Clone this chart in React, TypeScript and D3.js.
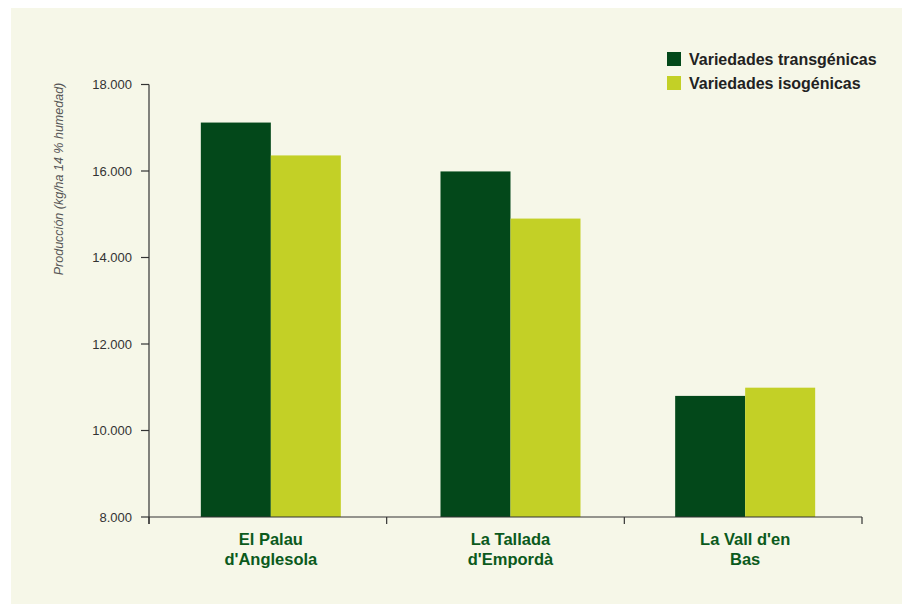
import React from "react";
import * as d3 from "d3";

const categories = [["El Palau", "d'Anglesola"], ["La Tallada", "d'Empordà"], ["La Vall d'en", "Bas"]];
const categoryKeys = ["El Palau d'Anglesola", "La Tallada d'Empordà", "La Vall d'en Bas"];
const seriesNames = ["Variedades transgénicas", "Variedades isogénicas"];
const transgenicas = [17120, 15990, 10800];
const isogenicas = [16360, 14900, 10990];
const yTicks = [8000, 10000, 12000, 14000, 16000, 18000];
const yTickLabels = ["8.000", "10.000", "12.000", "14.000", "16.000", "18.000"];
const colors = ["#03481a", "#c3d026"];

export default function App() {
  const W = 902, H = 605;
  const left = 149, right = 862, top = 84.5, bottom = 517;
  const y = d3.scaleLinear().domain([8000, 18000]).range([bottom, top]);
  const x = d3.scaleBand().domain(categoryKeys).range([left, right]).padding(0);
  const groupW = 140;
  const x1 = d3.scaleBand().domain(seriesNames).range([0, groupW]).padding(0);
  const series = [transgenicas, isogenicas];
  const font = "'Liberation Sans', Arial, Helvetica, sans-serif";
  const boundaries = [...categoryKeys.map((c) => x(c)!), right];
  const groupShift = [3, 5, 2];

  return (
    <svg width={W} height={H} style={{ position: "absolute", left: 0, top: 0 }} fontFamily={font}>
      <rect x={0} y={0} width={W} height={H} fill="#ffffff" />
      <rect x={11} y={8} width={W - 11} height={596} fill="#f6f7e8" />
      {/* bars */}
      {categoryKeys.map((c, i) => {
        const gx = x(c)! + (x.bandwidth() - groupW) / 2 + groupShift[i];
        return series.map((s, j) => (
          <rect
            key={c + j}
            x={gx + x1(seriesNames[j])!}
            y={y(s[i])}
            width={x1.bandwidth()}
            height={bottom - y(s[i])}
            fill={colors[j]}
          />
        ));
      })}
      {/* y axis */}
      <line x1={left} x2={left} y1={top} y2={bottom + 7} stroke="#333" strokeWidth={1.2} />
      {yTicks.map((t, i) => (
        <g key={t}>
          <line x1={left - 8} x2={left} y1={y(t)} y2={y(t)} stroke="#333" strokeWidth={1.2} />
          <text x={left - 17} y={y(t)} dy="0.35em" textAnchor="end" fontSize={13} fill="#333">
            {yTickLabels[i]}
          </text>
        </g>
      ))}
      {/* x axis */}
      <line x1={left} x2={right} y1={bottom} y2={bottom} stroke="#333" strokeWidth={1.2} />
      {boundaries.map((b, i) => (
        <line key={i} x1={b} x2={b} y1={bottom} y2={bottom + 7} stroke="#333" strokeWidth={1.2} />
      ))}
      {categoryKeys.map((c, i) => {
        const cx = x(c)! + x.bandwidth() / 2 + groupShift[i];
        return (
          <text key={c} textAnchor="middle" fontSize={16.5} fontWeight="bold" fill="#0b5a1c">
            <tspan x={cx} y={545}>{categories[i][0]}</tspan>
            <tspan x={cx} y={565}>{categories[i][1]}</tspan>
          </text>
        );
      })}
      {/* y title */}
      <text
        transform={`translate(63,179) rotate(-90)`}
        textAnchor="middle"
        fontSize={12.5}
        fontStyle="italic"
        fill="#555"
      >
        Producción (kg/ha 14 % humedad)
      </text>
      {/* legend */}
      {seriesNames.map((s, i) => (
        <g key={s} transform={`translate(667,${52 + i * 24})`}>
          <rect x={0} y={0} width={14} height={14} fill={colors[i]} />
          <text x={22} y={7} dy="0.36em" fontSize={16} fontWeight="bold" fill="#222">
            {s}
          </text>
        </g>
      ))}
    </svg>
  );
}
